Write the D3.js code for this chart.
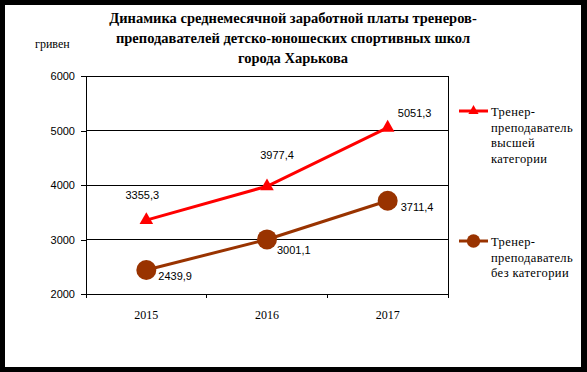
<!DOCTYPE html>
<html lang="ru">
<head>
<meta charset="UTF-8">
<title>Динамика заработной платы</title>
<script src="https://d3js.org/d3.v7.min.js"></script>
<style>
    body { margin: 0; background: #000; }
    svg { display: block; }
</style>
</head>
<body>
<div id="chart"></div>
<script>
// chart data
const years = ["2015", "2016", "2017"];
const topCategory = [3355.3, 3977.4, 5051.3];
const noCategory = [2439.9, 3001.1, 3711.4];
const yTicks = [2000, 3000, 4000, 5000, 6000];
const titleLines = [
    "Динамика среднемесячной заработной платы тренеров-",
    "преподавателей детско-юношеских спортивных школ",
    "города Харькова"
];
const unitLabel = "гривен";
const legendTop = ["Тренер-", "преподаватель", "высшей", "категории"];
const legendNone = ["Тренер-", "преподаватель", "без категории"];

const SERIF = "'Liberation Serif', 'Times New Roman', serif";
const SANS = "'Liberation Sans', Arial, sans-serif";

const W = 587, H = 372;
const plot = {left: 86, right: 448, top: 76, bottom: 294};

const svg = d3.select("#chart").append("svg")
    .attr("width", W)
    .attr("height", H);

// black frame + white page
svg.append("rect").attr("width", W).attr("height", H).attr("fill", "#000");
svg.append("rect").attr("x", 5).attr("y", 5)
    .attr("width", 576).attr("height", 362).attr("fill", "#fff");

const x = d3.scaleBand().domain(years).range([plot.left, plot.right]).padding(0);
const y = d3.scaleLinear().domain([2000, 6000]).range([plot.bottom, plot.top]);
const cx = d => x(d) + x.bandwidth() / 2;
const fmt = v => d3.format(".1f")(v).replace(".", ",");

// title
svg.append("text")
    .attr("text-anchor", "middle")
    .style("font-family", SERIF)
    .style("font-size", "14.5px")
    .style("font-weight", "bold")
    .selectAll("tspan")
    .data(titleLines)
    .enter().append("tspan")
    .attr("x", 293)
    .attr("y", (d, i) => 23 + i * 20)
    .text(d => d);

svg.append("text")
    .attr("x", 35).attr("y", 48)
    .style("font-family", SERIF)
    .style("font-size", "12px")
    .text(unitLabel);

// gridlines
svg.append("g")
    .selectAll("line")
    .data(yTicks)
    .enter().append("line")
    .attr("x1", plot.left).attr("x2", plot.right)
    .attr("y1", d => y(d)).attr("y2", d => y(d))
    .attr("stroke", "#000").attr("stroke-width", 1)
    .attr("shape-rendering", "crispEdges");

svg.append("rect")
    .attr("x", plot.left).attr("y", plot.top)
    .attr("width", plot.right - plot.left).attr("height", plot.bottom - plot.top)
    .attr("fill", "none").attr("stroke", "#000")
    .attr("shape-rendering", "crispEdges");

// y axis
const yAxis = svg.append("g")
    .attr("transform", `translate(${plot.left},0)`)
    .call(d3.axisLeft(y).tickValues(yTicks).tickSize(5).tickPadding(6).tickFormat(d3.format("d")));
yAxis.select(".domain").attr("stroke", "#000").attr("shape-rendering", "crispEdges");
yAxis.selectAll(".tick line").attr("shape-rendering", "crispEdges");
yAxis.selectAll("text").style("font-family", SANS).style("font-size", "11px").attr("fill", "#000");

// x axis: ticks at category boundaries
const xAxis = svg.append("g")
    .attr("transform", `translate(0,${plot.bottom})`)
    .call(d3.axisBottom(x).tickSize(0).tickPadding(16));
xAxis.select(".domain").remove();
xAxis.selectAll("text").style("font-family", SERIF).style("font-size", "12px").attr("fill", "#000");
const bounds = years.map(d => x(d)).concat([plot.right]);
xAxis.selectAll(".bound")
    .data(bounds)
    .enter().append("line")
    .attr("x1", d => d).attr("x2", d => d)
    .attr("y1", 0).attr("y2", 4)
    .attr("stroke", "#000")
    .attr("shape-rendering", "crispEdges");

const line = d3.line().x(d => cx(d.year)).y(d => y(d.value));
const red = "#ff0000", brown = "#993300";

const series = [
    {values: topCategory, color: red, symbol: d3.symbolTriangle, size: 80,
     lsize: 45, legend: legendTop, ly: 111,
     labelOff: [[-4, -21, "middle"], [10, -27, "middle"], [27, -11, "middle"]]},
    {values: noCategory, color: brown, symbol: d3.symbolCircle, size: 314,
     lsize: 140, legend: legendNone, ly: 241,
     labelOff: [[12, 10, "start"], [10, 15, "start"], [13, 10, "start"]]}
];

series.forEach(s => {
    const pts = years.map((yr, i) => ({year: yr, value: s.values[i]}));
    svg.append("path")
        .datum(pts)
        .attr("fill", "none")
        .attr("stroke", s.color)
        .attr("stroke-width", 3)
        .attr("d", line);

    svg.selectAll(null)
        .data(pts)
        .enter().append("path")
        .attr("transform", d => `translate(${cx(d.year)},${y(d.value)})`)
        .attr("d", d3.symbol().type(s.symbol).size(s.size))
        .attr("fill", s.color);

    svg.selectAll(null)
        .data(pts)
        .enter().append("text")
        .attr("x", (d, i) => cx(d.year) + s.labelOff[i][0])
        .attr("y", (d, i) => y(d.value) + s.labelOff[i][1])
        .attr("text-anchor", (d, i) => s.labelOff[i][2])
        .style("font-family", SANS)
        .style("font-size", "11px")
        .text(d => fmt(d.value));

    // legend
    const lg = svg.append("g").attr("transform", `translate(459,${s.ly})`);
    lg.append("line").attr("x1", 0).attr("x2", 29).attr("y1", 0).attr("y2", 0)
        .attr("stroke", s.color).attr("stroke-width", 3);
    lg.append("path").attr("transform", "translate(14.5,0)")
        .attr("d", d3.symbol().type(s.symbol).size(s.lsize))
        .attr("fill", s.color);
    lg.append("text")
        .style("font-family", SERIF)
        .style("font-size", "12.5px")
        .style("letter-spacing", "0.4px")
        .selectAll("tspan")
        .data(s.legend)
        .enter().append("tspan")
        .attr("x", 32)
        .attr("y", (d, i) => 5 + i * 15.7)
        .text(d => d);
});
</script>
</body>
</html>
